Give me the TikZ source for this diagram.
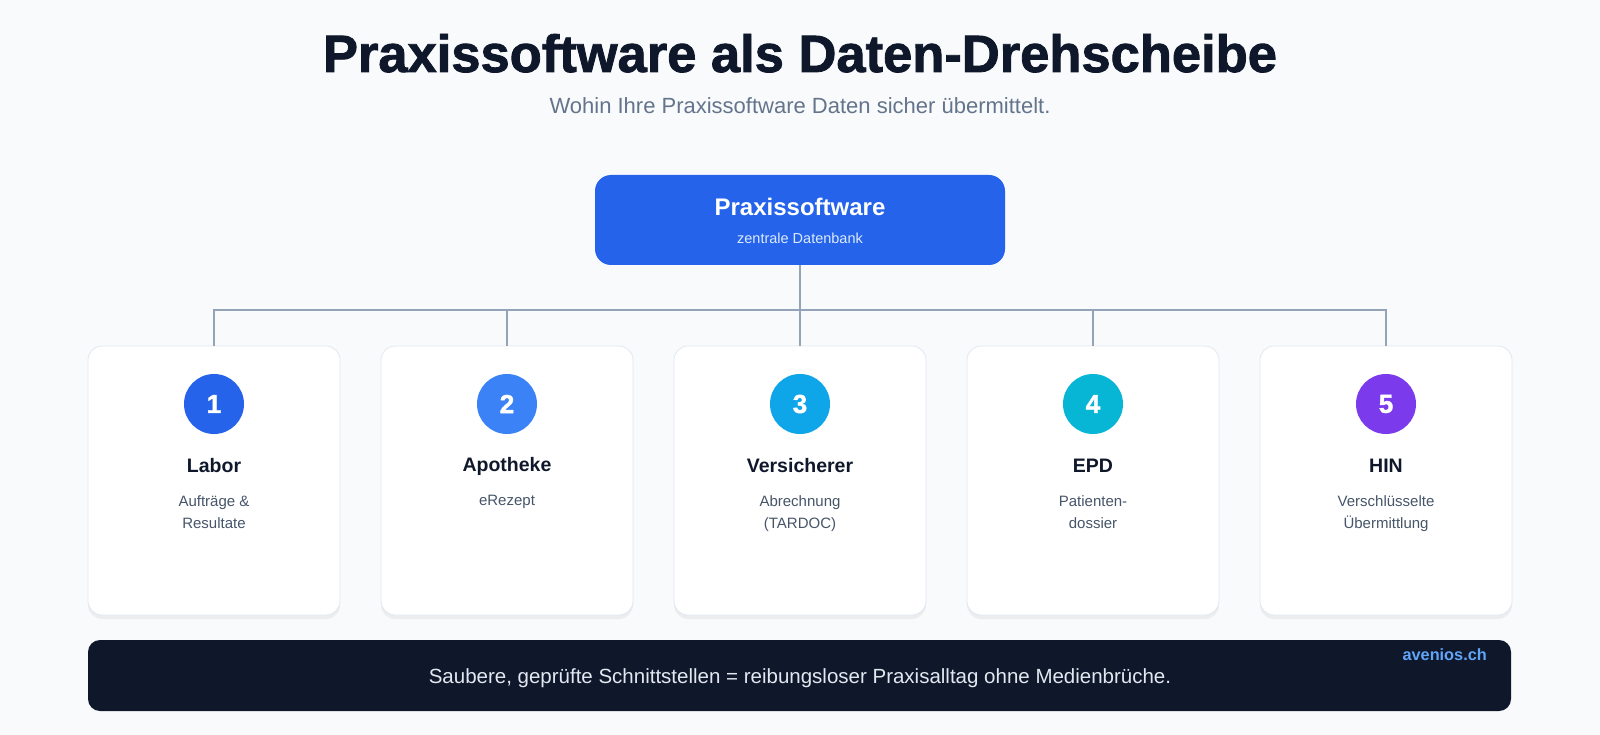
\documentclass[tikz,border=0pt]{standalone}
\usepackage{fontspec}
\setmainfont{Liberation Sans}
\newfontfamily\headfont{Liberation Sans}[BoldFeatures={FakeBold=1.6}]
\usetikzlibrary{positioning,shadows}
\definecolor{bg}{HTML}{F8FAFC}
\definecolor{ink}{HTML}{0F172A}
\definecolor{slate}{HTML}{475569}
\definecolor{subgray}{HTML}{64748B}
\definecolor{wire}{HTML}{94A3B8}
\definecolor{cardline}{HTML}{E2E8F0}
\definecolor{hubblue}{HTML}{2563EB}
\definecolor{hubsub}{HTML}{DBEAFE}
\definecolor{barfg}{HTML}{E2E8F0}
\definecolor{brand}{HTML}{60A5FA}
\definecolor{c1}{HTML}{2563EB}
\definecolor{c2}{HTML}{3B82F6}
\definecolor{c3}{HTML}{0EA5E9}
\definecolor{c4}{HTML}{06B6D4}
\definecolor{c5}{HTML}{7C3AED}

\begin{document}
\begin{tikzpicture}[x=1pt, y=-1pt, node distance=62pt,%
	every node/.style={inner sep=0pt},
	hub/.style={rectangle, rounded corners=16pt, fill=hubblue, minimum width=410pt, minimum height=90pt},
	card/.style={rectangle, rounded corners=14pt, fill=white, draw=cardline, line width=0.8pt,
		minimum width=252pt, minimum height=269pt,
		drop shadow={shadow xshift=0pt, shadow yshift=-4pt, fill=black, opacity=0.05}},
	num/.style={circle, minimum size=60pt, text=white, font=\headfont\bfseries\fontsize{26}{26}\selectfont},
	head/.style={text=ink, font=\bfseries\fontsize{19.5}{22}\selectfont},
	desc/.style={text=slate, align=center, font=\fontsize{15}{22}\selectfont},
	bar/.style={rectangle, rounded corners=12pt, fill=ink, minimum width=1423pt, minimum height=71pt},
	link/.style={draw=wire, line width=2.5pt}]
	\fill[bg] (0,0) rectangle (1600,735);

	\node[anchor=base, text=ink, font=\headfont\bfseries\fontsize{52.5}{58}\selectfont] (title) at (800,72) {Praxissoftware als Daten-Drehscheibe};
	\node[anchor=base, text=subgray, font=\fontsize{22}{26}\selectfont] (sub) at (800,114) {Wohin Ihre Praxissoftware Daten sicher übermittelt.};

	\node[hub] (hub) at (800,220) {};
	\node[anchor=base, text=white, font=\bfseries\fontsize{24}{28}\selectfont] (hubt) at (800,216) {Praxissoftware};
	\node[anchor=base, text=hubsub, font=\fontsize{14.5}{16}\selectfont] (hubs) at (800,244) {zentrale Datenbank};
	\coordinate (j) at (800,310);

	\foreach \name/\col/\txt [count=\i] in {Labor/c1/{Aufträge \&\\Resultate}, Apotheke/c2/{eRezept},
		Versicherer/c3/{Abrechnung\\(TARDOC)}, EPD/c4/{Patienten-\\dossier}, HIN/c5/{Verschlüsselte\\Übermittlung}} {
		\pgfmathsetmacro\xx{214+293*(\i-1)}
		\node[card] (c\i) at (\xx,480.5) {};
		\node[num, fill=\col] (n\i) at (\xx,404) {\i};
		\node[head, below of=n\i] (t\i) {\name};
		\node[desc, node distance=29pt, below of=t\i, anchor=north] (d\i) {\txt};
	}

	\draw[link] (hub) -- (j);
	\foreach \i in {1,...,5}
		\draw[link] (j) -| (c\i);

	\node[bar] (bar) at (799.5,675.5) {};
	\node[anchor=base, text=barfg, font=\fontsize{20.5}{22}\selectfont] (note) at (800,683.5) {Saubere, geprüfte Schnittstellen = reibungsloser Praxisalltag ohne Medienbrüche.};
	\node[anchor=base east, text=brand, font=\bfseries\fontsize{16.3}{18}\selectfont] (web) at (1487,660) {avenios.ch};
\end{tikzpicture}
\end{document}
